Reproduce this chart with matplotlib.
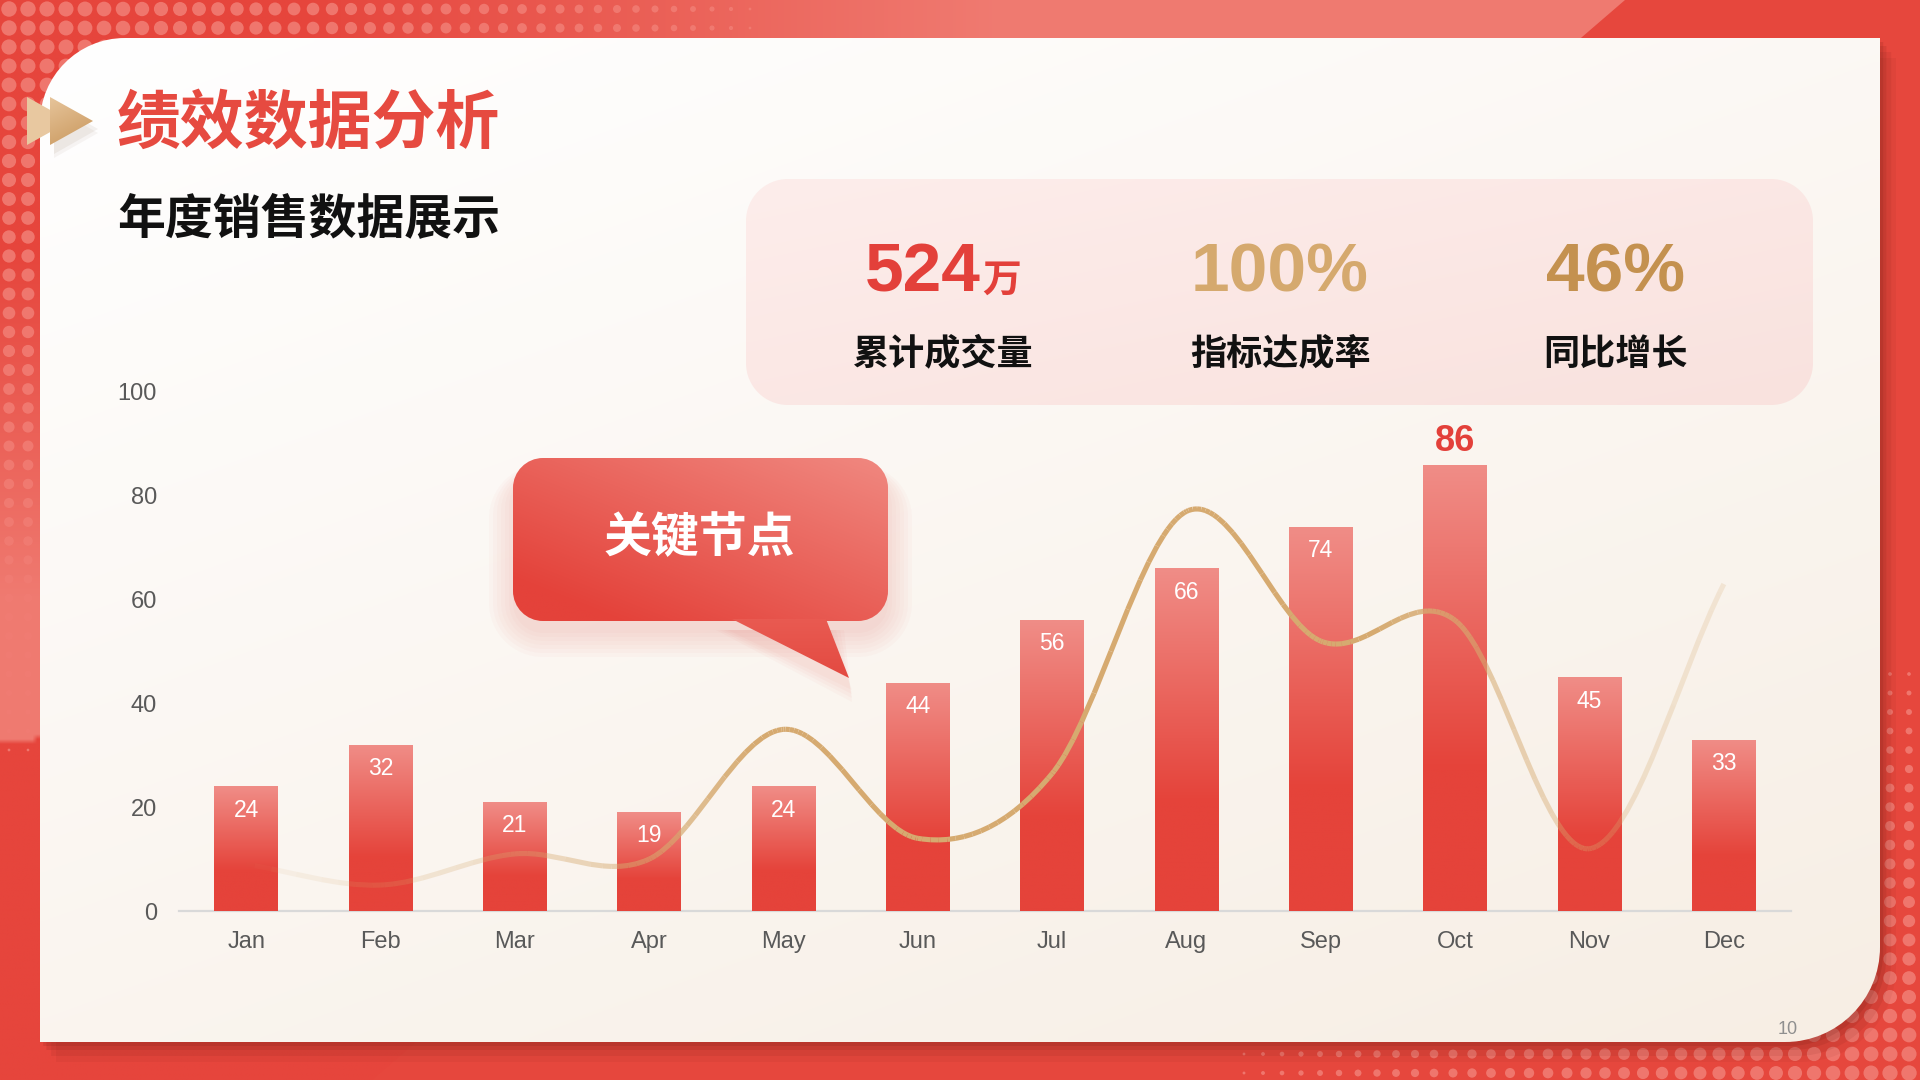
import numpy as np
import matplotlib
matplotlib.use('Agg')
import matplotlib.pyplot as plt
from matplotlib.path import Path
from matplotlib.patches import PathPatch, Polygon
from matplotlib.collections import LineCollection
from matplotlib.transforms import Affine2D
from matplotlib.colors import to_rgb

plt.rcParams['font.family'] = ['Noto Sans CJK SC', 'DejaVu Sans']

# ---- data ----
months = ['Jan', 'Feb', 'Mar', 'Apr', 'May', 'Jun', 'Jul', 'Aug', 'Sep', 'Oct', 'Nov', 'Dec']
sales = [24, 32, 21, 19, 24, 44, 56, 66, 74, 86, 45, 33]
trend = [9, 5, 11, 10, 35, 14, 26.5, 77, 52, 56, 12, 63]
y_ticks = [0, 20, 40, 60, 80, 100]

kpi_values = ['524', '100%', '46%']
kpi_units = ['万', '', '']
kpi_labels = ['累计成交量', '指标达成率', '同比增长']

title = '绩效数据分析'
subtitle = '年度销售数据展示'
callout_text = '关键节点'
page_no = '10'

# ---- styles ----
RED = '#e5433a'
BAR_TOP = '#f08d87'
GOLD = '#d6aa70'
KPI_COLORS = ['#e3403a', '#d5a96e', '#c4914f']
GREY = '#595959'
NUM_FONT = ['Liberation Sans', 'DejaVu Sans']
CJK_FONT = ['Noto Sans CJK SC', 'DejaVu Sans']
W, H = 1920, 1080
K = 0.5523


def mix(c1, c2, t):
    a = np.array(to_rgb(c1))
    b = np.array(to_rgb(c2))
    t = np.asarray(t, dtype=float)[..., None]
    return a * (1 - t) + b * t


def rounded_path(x0, y0, x1, y1, tl=0, tr=0, br=0, bl=0):
    # pixel coords, y grows downwards
    v, c = [], []

    def arc(p0, corner, p1):
        c1 = (p0[0] + K * (corner[0] - p0[0]), p0[1] + K * (corner[1] - p0[1]))
        c2 = (p1[0] + K * (corner[0] - p1[0]), p1[1] + K * (corner[1] - p1[1]))
        v.extend([c1, c2, p1])
        c.extend([Path.CURVE4] * 3)

    v.append((x0 + tl, y0)); c.append(Path.MOVETO)
    v.append((x1 - tr, y0)); c.append(Path.LINETO)
    if tr:
        arc((x1 - tr, y0), (x1, y0), (x1, y0 + tr))
    v.append((x1, y1 - br)); c.append(Path.LINETO)
    if br:
        arc((x1, y1 - br), (x1, y1), (x1 - br, y1))
    v.append((x0 + bl, y1)); c.append(Path.LINETO)
    if bl:
        arc((x0 + bl, y1), (x0, y1), (x0, y1 - bl))
    v.append((x0, y0 + tl)); c.append(Path.LINETO)
    if tl:
        arc((x0, y0 + tl), (x0, y0), (x0 + tl, y0))
    v.append((x0 + tl, y0)); c.append(Path.CLOSEPOLY)
    return Path(v, c)


def gradient_fill(ax, path_or_patch, extent, img, zorder):
    if isinstance(path_or_patch, Path):
        patch = PathPatch(path_or_patch, fc='none', ec='none', zorder=zorder)
    else:
        patch = path_or_patch
        patch.set_facecolor('none')
        patch.set_edgecolor('none')
        patch.set_zorder(zorder)
    ax.add_patch(patch)
    im = ax.imshow(img, extent=extent, aspect='auto', interpolation='bilinear', zorder=zorder)
    im.set_clip_path(patch)
    return im


fig = plt.figure(figsize=(19.2, 10.8), dpi=100)

# ---- background layer in pixel coordinates ----
bg = fig.add_axes([0, 0, 1, 1])
bg.axis('off')

gx, gy = np.meshgrid(np.linspace(0, W, 385), np.linspace(0, H, 217))
t_top = np.clip((gx - 300) / 700, 0, 1) * np.clip((90 - gy) / 50, 0, 1)
t_left = np.clip((gy - 250) / 350, 0, 1) * np.clip((90 - gx) / 50, 0, 1) * (gy < 745 - gx * 0.15)
wash = np.maximum(t_top, t_left) * 0.8
bg.imshow(mix('#e6453c', '#f2887e', wash), extent=(0, W, H, 0), aspect='auto',
          interpolation='bilinear', zorder=0)
bg.add_patch(Polygon([(1625, 0), (W, 0), (W, H), (1625 - 1.16 * H, H)],
                     closed=True, fc='#e6473d', ec='none', zorder=0.5))

# halftone dots
dx, dy = np.meshgrid(np.arange(9, W, 19), np.arange(9, H, 19))
r_tl = 7.8 * np.clip(1 - np.hypot(dx / 760, dy / 760), 0, 1) ** 0.4
r_br = 7.8 * np.clip(1 - np.hypot((W - dx) / 700, (H - dy) / 430), 0, 1) ** 0.5
r = np.maximum(r_tl, r_br)
keep = r > 1.3
bg.scatter(dx[keep], dy[keep], s=(2 * r[keep] * 0.72) ** 2, color='#f17c73',
           alpha=0.9, linewidths=0, zorder=1)

# white card with two rounded corners
card = rounded_path(40, 38, 1880, 1042, tl=85, br=95)
for off, a in [(20, 0.06), (14, 0.09), (8, 0.12), (4, 0.14)]:
    bg.add_patch(PathPatch(card.transformed(Affine2D().translate(off * 0.8, off)),
                           fc='#6e1a12', ec='none', alpha=a, zorder=2))
cx, cy = np.meshgrid(np.linspace(0, 1, 200), np.linspace(0, 1, 120))
gradient_fill(bg, card, (40, 1880, 1042, 38), mix('#ffffff', '#f7eee4', 0.6 * cy + 0.4 * cx), 3)

# arrow icon
for off, a in [(8, 0.05), (4, 0.07)]:
    bg.add_patch(Polygon([(54, 100 + off), (54, 150 + off), (98, 125 + off)],
                         closed=True, fc='#6b4a2a', ec='none', alpha=a, zorder=4))
bg.add_patch(Polygon([(27, 97), (27, 145), (70, 121)], closed=True,
                     fc='#e8c8a0', ec='none', zorder=4.1))
arrow = Polygon([(50, 97), (50, 145), (93, 121)], closed=True)
ax_, ay_ = np.meshgrid(np.linspace(0, 1, 20), np.linspace(0, 1, 40))
gradient_fill(bg, arrow, (50, 93, 145, 97), mix('#e6c49a', '#c9975c', 0.7 * ay_ + 0.3 * ax_), 4.2)

# titles
bg.text(117, 124, title, fontsize=46, fontweight='bold', color='#e64a40',
        family=CJK_FONT, ha='left', va='center', zorder=5)
bg.text(117, 219, subtitle, fontsize=34.5, fontweight='bold', color='#111111',
        family=CJK_FONT, ha='left', va='center', zorder=5)

# KPI panel
panel = rounded_path(746, 179, 1813, 405, tl=42, tr=42, br=42, bl=42)
px_, py_ = np.meshgrid(np.linspace(0, 1, 200), np.linspace(0, 1, 60))
gradient_fill(bg, panel, (746, 1813, 405, 179), mix('#fdedeb', '#f9e2de', 0.5 * px_ + 0.5 * py_), 4)

renderer = fig.canvas.get_renderer()
kpi_centers = [943, 1280, 1616]
for cx_, val, unit, lab, col in zip(kpi_centers, kpi_values, kpi_units, kpi_labels, KPI_COLORS):
    t1 = bg.text(0, 291, val, fontsize=50, fontweight='bold', color=col,
                 family=NUM_FONT, ha='left', va='baseline', zorder=5)
    w1 = t1.get_window_extent(renderer).width
    w2 = 0
    t2 = None
    if unit:
        t2 = bg.text(0, 292, unit, fontsize=28, fontweight='bold', color=col,
                     family=CJK_FONT, ha='left', va='baseline', zorder=5)
        w2 = t2.get_window_extent(renderer).width + 2
    start = cx_ - (w1 + w2) / 2
    t1.set_x(start)
    if t2 is not None:
        t2.set_x(start + w1 + 2)
    bg.text(cx_, 354, lab, fontsize=26, fontweight='bold', color='#111111',
            family=CJK_FONT, ha='center', va='center', zorder=5)

# callout bubble with a soft shadow underneath
bubble = rounded_path(513, 458, 888, 621, tl=30, tr=30, br=30, bl=30)
for i in range(7):
    grow = i * 4
    glow = rounded_path(513 - grow, 474 - grow * 0.4, 888 + grow, 633 + grow,
                        tl=30 + grow, tr=30 + grow, br=30 + grow, bl=30 + grow)
    bg.add_patch(PathPatch(glow, fc='#e8453c', ec='none', alpha=0.025, zorder=4))
for i in range(4):
    grow = i * 4
    bg.add_patch(Polygon([(728 - grow, 630), (832 + grow, 630), (852, 690 + grow)], closed=True,
                         fc='#e8453c', ec='none', alpha=0.03, zorder=4))
bx, by = np.meshgrid(np.linspace(0, 1, 120), np.linspace(0, 1, 80))
bub_img = mix('#f08880', '#e4423a', np.clip(0.55 * (1 - bx) + 0.6 * by, 0, 1))
gradient_fill(bg, bubble, (513, 888, 621, 458), bub_img, 4.5)
tail = Polygon([(732, 619), (826, 619), (849, 678)], closed=True)
tx_, ty_ = np.meshgrid(np.linspace(0, 1, 40), np.linspace(0, 1, 40))
gradient_fill(bg, tail, (732, 849, 678, 619), mix('#e95a51', '#e34a41', ty_), 4.5)
bg.text(699, 538, callout_text, fontsize=34.5, fontweight='bold', color='white',
        family=CJK_FONT, ha='center', va='center', zorder=5)

bg.text(1788, 1030, page_no, fontsize=13, color='#8f8f8f', family=NUM_FONT,
        ha='center', va='center', zorder=6)

bg.set_xlim(0, W)
bg.set_ylim(H, 0)

# ---- chart ----
ax = fig.add_axes([179 / W, 1 - 911 / H, 1612 / W, 519 / H])
ax.set_facecolor('none')
x = np.arange(len(months))

bars = ax.bar(x, sales, width=0.475, color=RED, zorder=2)
tt = np.clip(np.linspace(0, 1, 256) / 0.68, 0, 1)
bar_img = mix(BAR_TOP, RED, tt)[:, None, :]
for b in bars:
    x0, w, h = b.get_x(), b.get_width(), b.get_height()
    im = ax.imshow(bar_img, extent=(x0, x0 + w, 0, h), aspect='auto',
                   interpolation='bilinear', zorder=2.1)
    im.set_clip_path(b)

top = max(sales)
for xi, v in zip(x, sales):
    if v == top:
        ax.text(xi, v + 2.7, str(v), fontsize=26, fontweight='bold', color=KPI_COLORS[0],
                family=NUM_FONT, ha='center', va='baseline', zorder=4)
    else:
        ax.text(xi, v - 5.8, str(v), fontsize=16.5, color='white',
                family=NUM_FONT, ha='center', va='baseline', zorder=4)

ax.set_xlim(-0.5, len(months) - 0.5)
ax.set_ylim(0, 100)
ax.set_xticks(x)
ax.set_xticklabels(months)
ax.set_yticks(y_ticks)
ax.tick_params(axis='both', length=0, labelsize=17, labelcolor=GREY)
ax.tick_params(axis='x', pad=14.5)
ax.tick_params(axis='y', pad=16)
for lab in ax.get_xticklabels() + ax.get_yticklabels():
    lab.set_family(NUM_FONT)
for s in ['top', 'right', 'left']:
    ax.spines[s].set_visible(False)
ax.spines['bottom'].set_color('#d9d9d9')
ax.spines['bottom'].set_linewidth(1.6)
ax.spines['bottom'].set_zorder(1)

# smooth trend line (Catmull-Rom through the monthly points)
pts = np.column_stack([x, trend]).astype(float)
n = len(pts)
tang = []
for i in range(n):
    if i == 0:
        tang.append(pts[1] - pts[0])
    elif i == n - 1:
        tang.append(pts[-1] - pts[-2])
    else:
        tang.append((pts[i + 1] - pts[i - 1]) / 2)
verts, codes = [pts[0]], [Path.MOVETO]
for i in range(n - 1):
    verts += [pts[i] + tang[i] / 3, pts[i + 1] - tang[i + 1] / 3, pts[i + 1]]
    codes += [Path.CURVE4] * 3
curve = Path(verts, codes)
flat = curve.to_polygons(transform=ax.transData, closed_only=False)[0]
flat = ax.transData.inverted().transform(flat)
segs = np.stack([flat[:-1], flat[1:]], axis=1)
mid_x = segs[:, :, 0].mean(axis=1)
alpha = np.interp(mid_x, [0, 0.3, 1, 2, 3, 3.8, 8.4, 9.3, 10, 11],
                  [0.0, 0.1, 0.18, 0.32, 0.55, 1, 1, 0.55, 0.32, 0.2])
cols = np.tile(np.append(to_rgb(GOLD), 1.0), (len(segs), 1))
cols[:, 3] = alpha
ax.add_collection(LineCollection(segs, colors=cols, linewidths=3.7,
                                 capstyle='butt', zorder=3))

fig.savefig('out.png', dpi=100)
